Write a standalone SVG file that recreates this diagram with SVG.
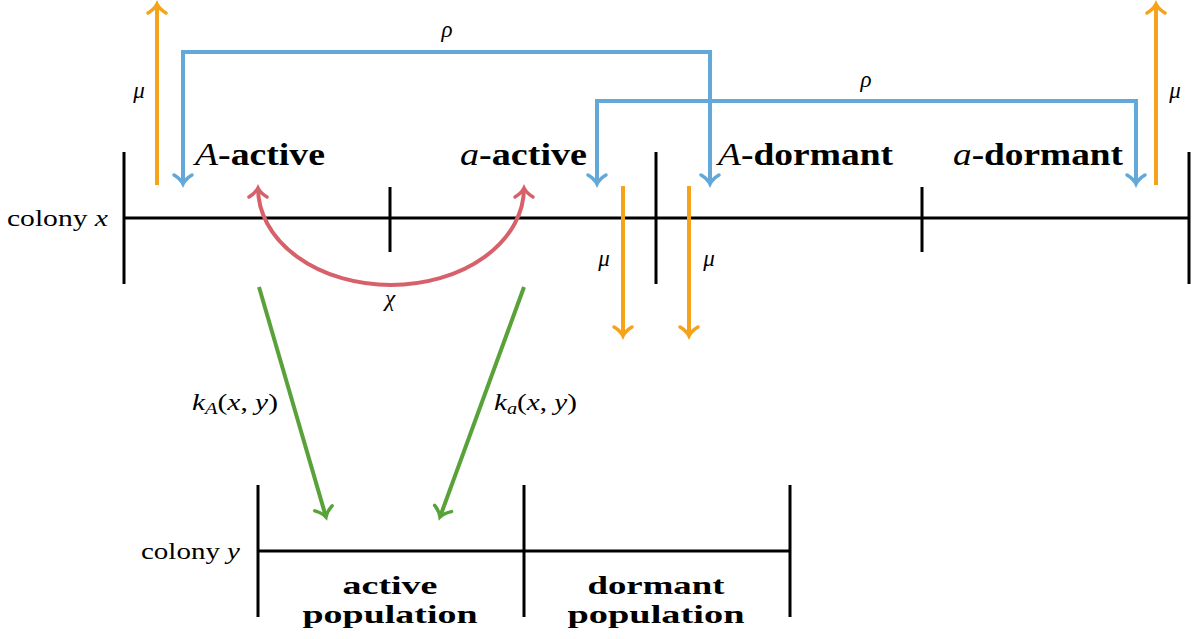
<svg xmlns="http://www.w3.org/2000/svg" width="1194" height="639" viewBox="0 0 1194 639">
<style>
text{font-family:"Liberation Serif","Times New Roman",serif;fill:#000}
.big{font-size:32px;font-weight:bold}
.big2{font-size:26px;font-weight:bold}
.lab{font-size:24px}
.m{font-size:23px;font-style:italic}
.it{font-style:italic;font-weight:normal}
.axis{stroke:#000;stroke-width:3;fill:none}
.or{stroke:#F4A31B;stroke-width:4;fill:none}
.bl{stroke:#62A8D8;stroke-width:4;fill:none}
.rd{stroke:#D6616B;stroke-width:4;fill:none}
.gr{stroke:#59A23A;stroke-width:4;fill:none}
</style>
<defs>
<marker id="hO" markerUnits="userSpaceOnUse" viewBox="-12 -12 16 24" markerWidth="16" markerHeight="24" refX="0" refY="0" orient="auto-start-reverse"><path d="M-9,-9 C-6,-4 -2,-1 0,0 C-2,1 -6,4 -9,9" fill="none" stroke="#F4A31B" stroke-width="3.5" stroke-linecap="round"/></marker>
<marker id="hB" markerUnits="userSpaceOnUse" viewBox="-12 -12 16 24" markerWidth="16" markerHeight="24" refX="0" refY="0" orient="auto-start-reverse"><path d="M-9,-9 C-6,-4 -2,-1 0,0 C-2,1 -6,4 -9,9" fill="none" stroke="#62A8D8" stroke-width="3.5" stroke-linecap="round"/></marker>
<marker id="hR" markerUnits="userSpaceOnUse" viewBox="-12 -12 16 24" markerWidth="16" markerHeight="24" refX="0" refY="0" orient="auto-start-reverse"><path d="M-9,-9 C-6,-4 -2,-1 0,0 C-2,1 -6,4 -9,9" fill="none" stroke="#D6616B" stroke-width="3.5" stroke-linecap="round"/></marker>
<marker id="hG" markerUnits="userSpaceOnUse" viewBox="-12 -12 16 24" markerWidth="16" markerHeight="24" refX="0" refY="0" orient="auto-start-reverse"><path d="M-9,-9 C-6,-4 -2,-1 0,0 C-2,1 -6,4 -9,9" fill="none" stroke="#59A23A" stroke-width="3.5" stroke-linecap="round"/></marker>
</defs>

<g id="colony-x">
<path class="axis" d="M124,218 H1189 M124,152 V284 M390,187 V252 M656,152 V284 M922,187 V252 M1189,152 V284"/>
<text class="lab" x="7" y="226" textLength="101" lengthAdjust="spacingAndGlyphs">colony <tspan class="it">x</tspan></text>
</g>
<g id="A-active"><text class="big" x="195" y="165" textLength="130" lengthAdjust="spacingAndGlyphs"><tspan class="it">A</tspan>-active</text></g>
<g id="a-active"><text class="big" x="460" y="165" textLength="127" lengthAdjust="spacingAndGlyphs"><tspan class="it">a</tspan>-active</text></g>
<g id="A-dormant"><text class="big" x="718" y="165" textLength="175" lengthAdjust="spacingAndGlyphs"><tspan class="it">A</tspan>-dormant</text></g>
<g id="a-dormant"><text class="big" x="953" y="165" textLength="170" lengthAdjust="spacingAndGlyphs"><tspan class="it">a</tspan>-dormant</text></g>

<g id="colony-y">
<path class="axis" d="M258,551 H790 M258,485 V617 M524,485 V617 M790,485 V617"/>
<text class="lab" x="141" y="559" textLength="99" lengthAdjust="spacingAndGlyphs">colony <tspan class="it">y</tspan></text>
</g>
<g id="active-population">
<text class="big2" text-anchor="middle"><tspan x="390" y="594" textLength="95" lengthAdjust="spacingAndGlyphs">active</tspan><tspan x="390" y="623" textLength="175" lengthAdjust="spacingAndGlyphs">population</tspan></text>
</g>
<g id="dormant-population">
<text class="big2" text-anchor="middle"><tspan x="656" y="594" textLength="137" lengthAdjust="spacingAndGlyphs">dormant</tspan><tspan x="656" y="623" textLength="177" lengthAdjust="spacingAndGlyphs">population</tspan></text>
</g>

<g id="connectors">
<line class="or" x1="157" y1="185" x2="157" y2="4" marker-end="url(#hO)"/>
<line class="or" x1="1156" y1="185" x2="1156" y2="4" marker-end="url(#hO)"/>
<line class="or" x1="623" y1="186" x2="623" y2="336" marker-end="url(#hO)"/>
<line class="or" x1="689" y1="186" x2="689" y2="336" marker-end="url(#hO)"/>
<path class="bl" d="M183,184 V52 H710 V184" marker-start="url(#hB)" marker-end="url(#hB)"/>
<path class="bl" d="M597,184 V101 H1136 V184" marker-start="url(#hB)" marker-end="url(#hB)"/>
<path class="rd" d="M258,188 A133,97 0 0 0 524,188" marker-start="url(#hR)" marker-end="url(#hR)"/>
<line class="gr" x1="259" y1="287" x2="326" y2="517" marker-end="url(#hG)"/>
<line class="gr" x1="524" y1="287" x2="440" y2="517" marker-end="url(#hG)"/>
<text class="m" x="139" y="98" text-anchor="middle">μ</text>
<text class="m" x="1175" y="98" text-anchor="middle">μ</text>
<text class="m" x="604" y="266" text-anchor="middle">μ</text>
<text class="m" x="709" y="266" text-anchor="middle">μ</text>
<text class="m" x="447" y="37" text-anchor="middle">ρ</text>
<text class="m" x="866" y="87" text-anchor="middle">ρ</text>
<text class="m" x="390" y="306" text-anchor="middle">χ</text>
<text class="m" x="192" y="410" textLength="86" lengthAdjust="spacingAndGlyphs"><tspan>k</tspan><tspan font-size="16" dy="4">A</tspan><tspan dy="-4" font-style="normal">(</tspan>x<tspan font-style="normal">, </tspan>y<tspan font-style="normal">)</tspan></text>
<text class="m" x="494" y="410" textLength="83" lengthAdjust="spacingAndGlyphs"><tspan>k</tspan><tspan font-size="16" dy="4">a</tspan><tspan dy="-4" font-style="normal">(</tspan>x<tspan font-style="normal">, </tspan>y<tspan font-style="normal">)</tspan></text>
</g>
</svg>
